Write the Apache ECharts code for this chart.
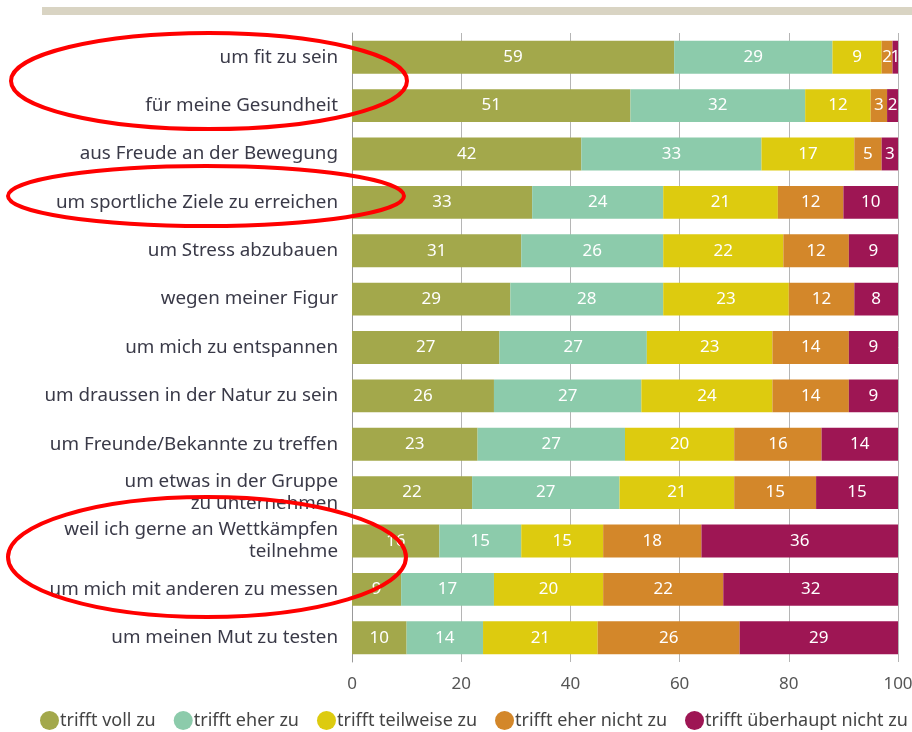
<!DOCTYPE html>
<html>
<head>
<meta charset="utf-8">
<script src="https://cdn.jsdelivr.net/npm/echarts@6/dist/echarts.min.js"></script>
<style>
  html, body { margin: 0; padding: 0; background: #fff; }
  #chart { width: 912px; height: 732px; }
</style>
</head>
<body>
<div id="chart"></div>
<script>
// Motive, von oben nach unten
const categories = [
  'um fit zu sein',
  'für meine Gesundheit',
  'aus Freude an der Bewegung',
  'um sportliche Ziele zu erreichen',
  'um Stress abzubauen',
  'wegen meiner Figur',
  'um mich zu entspannen',
  'um draussen in der Natur zu sein',
  'um Freunde/Bekannte zu treffen',
  'um etwas in der Gruppe\nzu unternehmen',
  'weil ich gerne an Wettkämpfen\nteilnehme',
  'um mich mit anderen zu messen',
  'um meinen Mut zu testen'
];

const seriesNames = ['trifft voll zu', 'trifft eher zu', 'trifft teilweise zu', 'trifft eher nicht zu', 'trifft überhaupt nicht zu'];

const volle      = [59, 51, 42, 33, 31, 29, 27, 26, 23, 22, 16, 9, 10];
const eher       = [29, 32, 33, 24, 26, 28, 27, 27, 27, 27, 15, 17, 14];
const teilweise  = [9, 12, 17, 21, 22, 23, 23, 24, 20, 21, 15, 20, 21];
const eherNicht  = [2, 3, 5, 12, 12, 12, 14, 14, 16, 15, 18, 22, 26];
const garNicht   = [1, 2, 3, 10, 9, 8, 9, 9, 14, 15, 36, 32, 29];

const xTicks = [0, 20, 40, 60, 80, 100];

const colors = ['#a3a84b', '#8ccbab', '#ddcb0f', '#d3872a', '#9e1654'];
const values = [volle, eher, teilweise, eherNicht, garNicht];

const font = 'Noto Sans';

let series = seriesNames.map(function (name, i) {
    return {
        name: name,
        type: 'bar',
        stack: 'total',
        barWidth: '68%',
        data: values[i],
        itemStyle: { color: colors[i] },
        label: {
            show: true,
            position: 'inside',
            color: '#fff',
            fontFamily: font,
            fontSize: 17
        },
        emphasis: { disabled: true }
    };
});

let option = {
    animation: false,
    backgroundColor: '#fff',
    color: colors,
    textStyle: { fontFamily: font },
    grid: {
        left: 352,
        right: 14,
        top: 33,
        bottom: 70,
        outerBoundsMode: 'none'
    },
    legend: {
        top: 711,
        left: 40,
        width: 1000,
        padding: 0,
        itemGap: 18,
        itemWidth: 19,
        itemHeight: 19,
        icon: 'circle',
        textStyle: { fontFamily: font, fontSize: 18, color: '#444', padding: [0, 0, 0, -4] },
        data: seriesNames
    },
    xAxis: {
        type: 'value',
        min: 0,
        max: 100,
        interval: 20,
        axisLine: { show: false },
        axisTick: { show: false },
        splitLine: { show: true, lineStyle: { color: '#b5b5b5', width: 1 } },
        axisLabel: {
            fontFamily: font,
            fontSize: 17,
            color: '#555',
            margin: 14,
            formatter: function (v) { return xTicks.indexOf(v) >= 0 ? String(v) : ''; }
        }
    },
    yAxis: {
        type: 'category',
        inverse: true,
        data: categories,
        axisLine: { show: true, lineStyle: { color: '#999' } },
        axisTick: { show: false },
        axisLabel: {
            fontFamily: font,
            fontSize: 18.8,
            color: '#3a3a48',
            margin: 14,
            lineHeight: 22
        }
    },
    series: series,
    graphic: [
        {
            type: 'rect',
            shape: { x: 42, y: 7, width: 870, height: 8 },
            style: { fill: '#d9d4c3' }
        },
        {
            type: 'ellipse',
            shape: { cx: 209, cy: 81, rx: 198, ry: 48 },
            style: { fill: null, stroke: '#ff0000', lineWidth: 4 },
            z: 100
        },
        {
            type: 'ellipse',
            shape: { cx: 206, cy: 196, rx: 198, ry: 30 },
            style: { fill: null, stroke: '#ff0000', lineWidth: 4 },
            z: 100
        },
        {
            type: 'ellipse',
            shape: { cx: 207, cy: 557, rx: 199, ry: 60 },
            style: { fill: null, stroke: '#ff0000', lineWidth: 4 },
            z: 100
        }
    ]
};

let chart = echarts.init(document.getElementById('chart'), null, { renderer: 'canvas' });
chart.setOption(option);
</script>
</body>
</html>
